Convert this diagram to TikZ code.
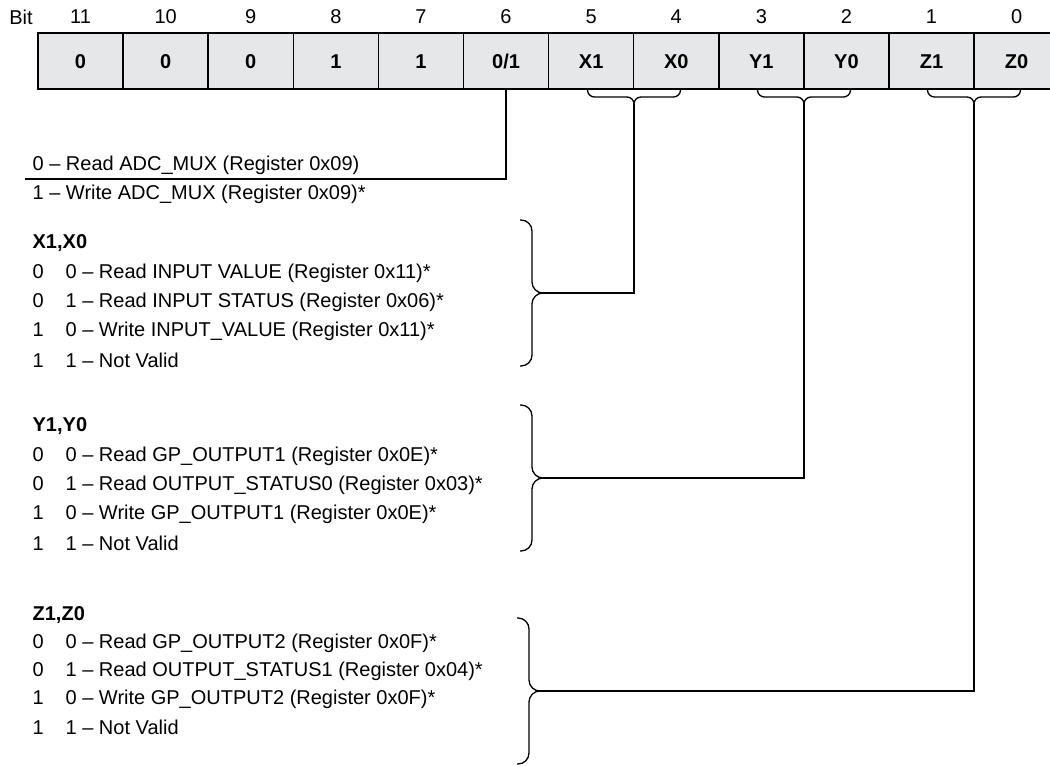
\documentclass[tikz,border=0pt]{standalone}
\usepackage{fontspec}
\setmainfont{Liberation Sans}
\definecolor{cellgray}{RGB}{230,231,232}

\begin{document}
\begin{tikzpicture}[x=1pt, y=-1pt, line width=1.3pt, font=\fontsize{20}{23}\selectfont,
	cell/.style={shape=rectangle, draw, fill=cellgray, line width=1.5pt, minimum width=85.1pt, minimum height=56pt, inner sep=0pt, text height=14.3pt, text depth=0pt, font=\fontsize{20}{23}\selectfont\bfseries},
	bitno/.style={inner sep=0pt},
	txt/.style={anchor=west, inner sep=0pt},
	head/.style={txt, font=\fontsize{20}{23}\selectfont\bfseries},
	brc/.style={rounded corners=#1}]
	\useasboundingbox (0,0) rectangle (1050,766);
	\node[bitno] (bit) at (21,17) {Bit};
	\foreach \i/\v in {11/0,10/0,9/0,8/1,7/1,6/{0/1},5/X1,4/X0,3/Y1,2/Y0,1/Z1,0/Z0}{
		\node[cell] (c\i) at ({80.55+85.1*(11-\i)},61) {\v};
		\node[bitno] (n\i) at ({80.55+85.1*(11-\i)},17) {\i};
	}
	% braces under the register
	\foreach \t/\x in {xtop/634,ytop/804,ztop/974}{
		\coordinate (\t) at (\x,104);
		\draw[brc=7pt] (\x-46.5,89) -- (\x-46.5,97) -- (\x,97) -- (\t);
		\draw[brc=7pt] (\x+46.5,89) -- (\x+46.5,97) -- (\x,97) -- (\t);
	}
	% braces beside the lists
	\foreach \t/\x/\y in {xmid/543/293,ymid/543/478,zmid/540/691}{
		\coordinate (\t) at (\x,\y);
		\draw[brc=11pt] (\x-23,\y-73) -- (\x-11,\y-73) -- (\x-11,\y) -- (\t);
		\draw[brc=11pt] (\x-23,\y+73) -- (\x-11,\y+73) -- (\x-11,\y) -- (\t);
	}
	% bit 6
	\node[txt] (adc0) at (32,165) {0 – Read ADC\_MUX (Register 0x09)};
	\node[txt] (adc1) at (32,194) {1 – Write ADC\_MUX (Register 0x09)*};
	\coordinate (adc) at (25,179);
	\draw (c6.south) |- (adc);
	% X1,X0
	\node[head] (xh) at (32,243) {X1,X0};
	\node[txt] (x00) at (32,273) {\makebox[33pt][l]{0}0 – Read INPUT VALUE (Register 0x11)*};
	\node[txt] (x01) at (32,302) {\makebox[33pt][l]{0}1 – Read INPUT STATUS (Register 0x06)*};
	\node[txt] (x10) at (32,331) {\makebox[33pt][l]{1}0 – Write INPUT\_VALUE (Register 0x11)*};
	\node[txt] (x11) at (32,360) {\makebox[33pt][l]{1}1 – Not Valid};
	\draw (xtop) |- (xmid);
	% Y1,Y0
	\node[head] (yh) at (32,426) {Y1,Y0};
	\node[txt] (y00) at (32,456) {\makebox[33pt][l]{0}0 – Read GP\_OUTPUT1 (Register 0x0E)*};
	\node[txt] (y01) at (32,485) {\makebox[33pt][l]{0}1 – Read OUTPUT\_STATUS0 (Register 0x03)*};
	\node[txt] (y10) at (32,514) {\makebox[33pt][l]{1}0 – Write GP\_OUTPUT1 (Register 0x0E)*};
	\node[txt] (y11) at (32,543) {\makebox[33pt][l]{1}1 – Not Valid};
	\draw (ytop) |- (ymid);
	% Z1,Z0
	\node[head] (zh) at (32,615) {Z1,Z0};
	\node[txt] (z00) at (32,643) {\makebox[33pt][l]{0}0 – Read GP\_OUTPUT2 (Register 0x0F)*};
	\node[txt] (z01) at (32,671) {\makebox[33pt][l]{0}1 – Read OUTPUT\_STATUS1 (Register 0x04)*};
	\node[txt] (z10) at (32,699) {\makebox[33pt][l]{1}0 – Write GP\_OUTPUT2 (Register 0x0F)*};
	\node[txt] (z11) at (32,727) {\makebox[33pt][l]{1}1 – Not Valid};
	\draw (ztop) |- (zmid);
\end{tikzpicture}
\end{document}
